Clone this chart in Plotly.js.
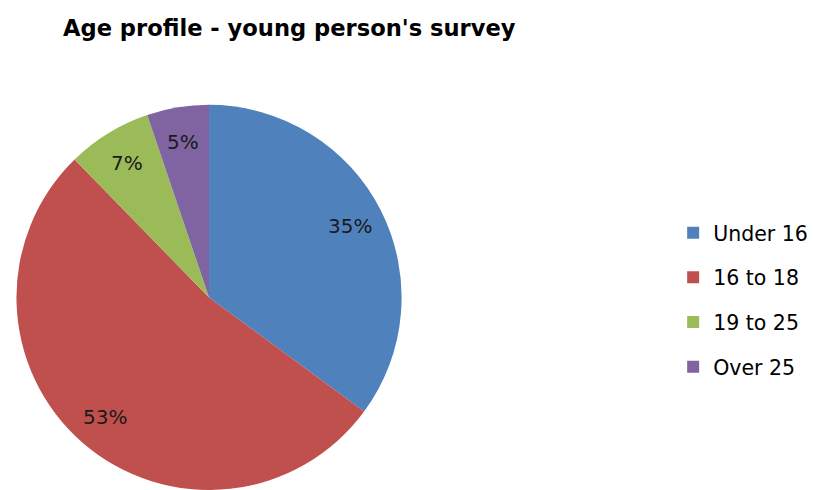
<!DOCTYPE html>
<html>
<head>
<meta charset="utf-8">
<script src="https://cdn.plot.ly/plotly-3.0.1.min.js"></script>
<style>html,body{margin:0;padding:0;background:#fff;}#chart{width:813px;height:490px;}</style>
</head>
<body>
<div id="chart"></div>
<script>
const categories = ["Under 16", "16 to 18", "19 to 25", "Over 25"];
const values = [35.1, 52.6, 7.1, 5.2];
const colors = ["#4F81BD", "#C0504D", "#9BBB59", "#8064A2"];
const chartTitle = "Age profile - young person's survey";
const FONT = "DejaVu Sans, sans-serif";

const W = 813, H = 490;
const domX = [0.0191, 0.4951], domY = [0, 0.786];

const traces = [{
  type: "pie",
  labels: categories,
  values: values,
  sort: false,
  direction: "clockwise",
  rotation: 0,
  marker: {colors: colors, line: {width: 0}},
  textinfo: "none",
  showlegend: false,
  hoverinfo: "label+percent",
  domain: {x: domX, y: domY}
}];
categories.forEach((c, i) => {
  traces.push({
    type: "scatter", x: [null], y: [null], mode: "markers", name: c,
    legendgroup: "g" + i,
    marker: {symbol: "square", size: 12, color: colors[i]},
    hoverinfo: "skip"
  });
});

// percentage labels placed along each slice's mid-angle (derived from values)
const total = values.reduce((a, b) => a + b, 0);
const cx = (domX[0] + domX[1]) / 2 * W;
const cy = (domY[0] + domY[1]) / 2 * H; // from bottom
const r = Math.min((domX[1] - domX[0]) * W, (domY[1] - domY[0]) * H) / 2;
const annotations = [];
let cum = 0;
values.forEach((v, i) => {
  const mid = (cum + v / 2) / total * 2 * Math.PI;
  cum += v;
  const rr = 0.82 * r;
  annotations.push({
    xref: "paper", yref: "paper",
    x: (cx + rr * Math.sin(mid)) / W,
    y: (cy + rr * Math.cos(mid)) / H,
    xanchor: "center", yanchor: "middle", showarrow: false,
    text: Math.round(v / total * 100) + "%",
    font: {family: FONT, size: 20, color: "#1a1a1a"}
  });
});

const layout = {
  width: W, height: H,
  margin: {l: 0, r: 0, t: 0, b: 0, autoexpand: false},
  paper_bgcolor: "#fff", plot_bgcolor: "#fff",
  title: {text: "<b>" + chartTitle + "</b>", xref: "container", yref: "container",
          x: 0.0775, xanchor: "left", y: 0.943, yanchor: "middle",
          font: {family: FONT, size: 22.6, color: "#000"}},
  xaxis: {visible: false}, yaxis: {visible: false},
  showlegend: true,
  annotations: annotations,
  legend: {xref: "container", yref: "container", x: 0.828, xanchor: "left", y: 0.388, yanchor: "middle",
           font: {family: FONT, size: 20.5, color: "#000"}, tracegroupgap: 15,
           itemwidth: 30, bgcolor: "rgba(0,0,0,0)"}
};
Plotly.newPlot("chart", traces, layout, {displayModeBar: false, staticPlot: true});
</script>
</body>
</html>
